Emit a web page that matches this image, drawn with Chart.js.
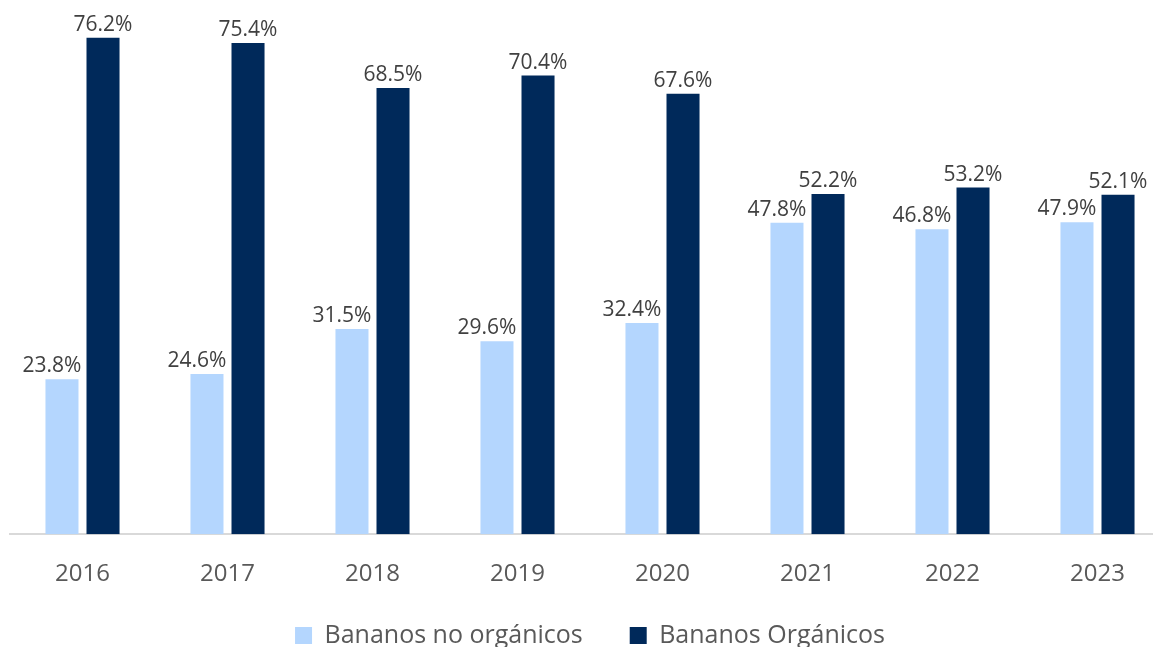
<!DOCTYPE html>
<html lang="es">
<head>
<meta charset="UTF-8">
<title>Bananos orgánicos vs no orgánicos</title>
<script src="https://cdn.jsdelivr.net/npm/chart.js"></script>
<style>
    html, body { margin: 0; padding: 0; background: #ffffff; overflow: hidden; }
    /* el gráfico original está recortado por la derecha */
    .wrap { width: 1170px; height: 647px; position: relative; }
</style>
</head>
<body>
<div class="wrap"><canvas id="chart"></canvas></div>
<script>
    // --- Datos ---
    const years = ['2016', '2017', '2018', '2019', '2020', '2021', '2022', '2023'];
    const noOrganicos = [23.8, 24.6, 31.5, 29.6, 32.4, 47.8, 46.8, 47.9];
    const organicos = [76.2, 75.4, 68.5, 70.4, 67.6, 52.2, 53.2, 52.1];
    const seriesNames = ['Bananos no orgánicos', 'Bananos Orgánicos'];

    const FONT = '"Open Sans", "Noto Sans", sans-serif';

    // Etiquetas de valor encima de cada barra
    const valueLabels = {
        id: 'valueLabels',
        afterDatasetsDraw(chart) {
            const ctx = chart.ctx;
            ctx.save();
            ctx.font = '21px ' + FONT;
            ctx.fillStyle = '#404040';
            ctx.textAlign = 'center';
            ctx.textBaseline = 'alphabetic';
            chart.data.datasets.forEach((ds, i) => {
                const meta = chart.getDatasetMeta(i);
                meta.data.forEach((bar, j) => {
                    const shift = i === 0 ? -10 : 0; // Excel las corre a la izquierda
                    ctx.fillText(ds.data[j].toFixed(1) + '%', bar.x + shift, bar.y - 7);
                });
            });
            ctx.restore();
        }
    };

    new Chart(document.getElementById('chart'), {
        type: 'bar',
        data: {
            labels: years,
            datasets: [
                {
                    label: seriesNames[0],
                    data: noOrganicos,
                    backgroundColor: '#b4d6fe',
                    categoryPercentage: 0.566,
                    barPercentage: 0.805
                },
                {
                    label: seriesNames[1],
                    data: organicos,
                    backgroundColor: '#00295a',
                    categoryPercentage: 0.566,
                    barPercentage: 0.805
                }
            ]
        },
        options: {
            responsive: true,
            maintainAspectRatio: false,
            animation: false,
            layout: { padding: { top: 13, left: 10, right: 0, bottom: -11 } },
            scales: {
                x: {
                    grid: { display: false, drawTicks: false },
                    border: { color: '#d9d9d9', width: 2 },
                    ticks: {
                        color: '#595959',
                        font: { family: FONT, size: 24 },
                        padding: 26
                    }
                },
                y: {
                    display: false,
                    min: 0,
                    max: 80
                }
            },
            plugins: {
                legend: {
                    position: 'bottom',
                    labels: {
                        color: '#595959',
                        font: { family: FONT, size: 25 },
                        boxWidth: 17,
                        boxHeight: 17,
                        padding: 8,
                        // espacio extra entre las dos entradas, como en el original
                        generateLabels(chart) {
                            const items = Chart.defaults.plugins.legend.labels.generateLabels(chart);
                            items[0].text += '\u00a0\u00a0\u00a0\u00a0\u00a0\u00a0';
                            return items;
                        }
                    }
                },
                tooltip: { enabled: false }
            }
        },
        plugins: [valueLabels]
    });
</script>
</body>
</html>
